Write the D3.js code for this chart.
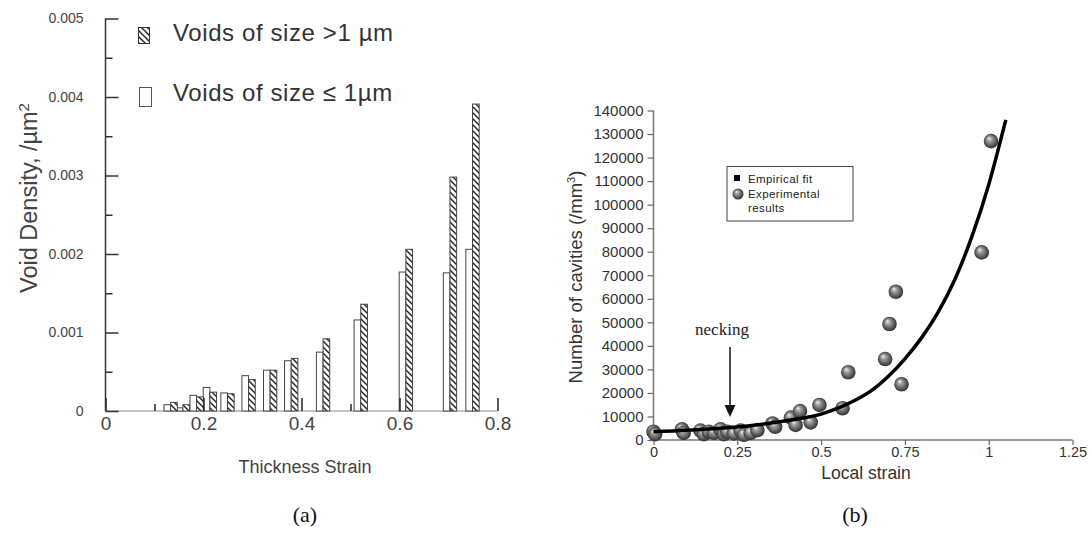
<!DOCTYPE html>
<html><head><meta charset="utf-8">
<script src="https://cdn.jsdelivr.net/npm/d3@7"></script>
<style>
html,body{margin:0;padding:0;background:#fff;}
svg{display:block;}
</style></head>
<body>
<svg id="chart" width="1092" height="538" font-family="Liberation Sans, Arial, sans-serif"></svg>
<script>
// ---------- Panel (a) data ----------
const strainA = [0.133, 0.158, 0.186, 0.213, 0.249, 0.292, 0.336, 0.379, 0.444, 0.521, 0.613, 0.703, 0.749];
const smallVoids = [0.00008, 0.00004, 0.00020, 0.00030, 0.00023, 0.00045, 0.00052, 0.00064, 0.00075, 0.00116, 0.00177, 0.00176, 0.00206];
const largeVoids = [0.00011, 0.00008, 0.00018, 0.00024, 0.00022, 0.00040, 0.00052, 0.00067, 0.00092, 0.00136, 0.00206, 0.00298, 0.00391];
const yTicksA = [0, 0.001, 0.002, 0.003, 0.004, 0.005];
const xTicksA = [0, 0.2, 0.4, 0.6, 0.8];
const legendA = ["Voids of size >1 \u00b5m", "Voids of size \u2264 1\u00b5m"];

// ---------- Panel (b) data ----------
const expStrain = [0, 0.005, 0.085, 0.09, 0.14, 0.15, 0.165, 0.18, 0.2, 0.21, 0.22, 0.24, 0.26, 0.27, 0.29, 0.31, 0.355, 0.363, 0.41, 0.424, 0.437, 0.469, 0.495, 0.564, 0.581, 0.691, 0.704, 0.723, 0.74, 0.979, 1.007];
const expCavities = [3500, 2500, 4500, 3000, 4000, 2500, 3500, 3000, 4500, 2500, 3500, 2800, 4000, 2200, 3000, 4200, 7000, 5600, 9500, 6400, 12300, 7500, 14900, 13500, 28800, 34400, 49300, 63000, 23700, 79700, 127000];
const fitStrain = [0, 0.1, 0.2, 0.3, 0.4, 0.5, 0.55, 0.6, 0.65, 0.7, 0.75, 0.8, 0.85, 0.9, 0.95, 1.0, 1.051];
const fitCavities = [3500, 4100, 5000, 6300, 8300, 11000, 13500, 16800, 21000, 27000, 34500, 43500, 54500, 68500, 86500, 108500, 136000];
const yTicksB = [0, 10000, 20000, 30000, 40000, 50000, 60000, 70000, 80000, 90000, 100000, 110000, 120000, 130000, 140000];
const xTicksB = [0, 0.25, 0.5, 0.75, 1, 1.25];
const legendB = ["Empirical fit", "Experimental", "results"];

const SANS = "Liberation Sans, Arial, sans-serif";
const SERIF = "Liberation Serif, DejaVu Serif, serif";

const svg = d3.select("#chart");
svg.append("rect").attr("width",1092).attr("height",538).attr("fill","#fff");

const defs = svg.append("defs");
const pat = defs.append("pattern").attr("id","hatch").attr("patternUnits","userSpaceOnUse")
  .attr("width",6).attr("height",6);
pat.append("rect").attr("width",6).attr("height",6).attr("fill","#fff");
pat.append("path").attr("d","M-1,-1 L7,7 M-4,2 L1,7 M2,-4 L7,1").attr("stroke","#222").attr("stroke-width",1.4);

const grad = defs.append("radialGradient").attr("id","sphere").attr("cx","50%").attr("cy","50%").attr("r","55%")
  .attr("fx","35%").attr("fy","30%");
grad.append("stop").attr("offset","0%").attr("stop-color","#f4f4f4");
grad.append("stop").attr("offset","30%").attr("stop-color","#a0a0a0");
grad.append("stop").attr("offset","75%").attr("stop-color","#505050");
grad.append("stop").attr("offset","100%").attr("stop-color","#262626");

// ================= Panel (a) =================
const xA = d3.scaleLinear().domain([0,0.8]).range([105.5,497.5]);
const yA = d3.scaleLinear().domain([0,0.005]).range([411,18.5]);
const bw = 0.0136;

const gA = svg.append("g");
gA.append("line").attr("x1",xA(0)).attr("x2",xA(0.8)).attr("y1",yA(0)).attr("y2",yA(0))
  .attr("stroke","#888").attr("stroke-width",1);

const xAxisMinor = d3.axisBottom(xA).tickValues([0.1,0.3,0.5,0.7]).tickSize(-7).tickFormat("");
gA.append("g").attr("transform",`translate(0,${yA(0)})`).call(xAxisMinor)
  .call(g=>g.select(".domain").remove())
  .call(g=>g.selectAll("line").attr("stroke","#222").attr("stroke-width",1.5));

gA.append("g").selectAll("rect").data(strainA).join("rect")
  .attr("x",(d)=>xA(d-bw)).attr("width",xA(bw)-xA(0))
  .attr("y",(d,i)=>yA(smallVoids[i])).attr("height",(d,i)=>yA(0)-yA(smallVoids[i]))
  .attr("fill","#fff").attr("stroke","#444").attr("stroke-width",1);
gA.append("g").selectAll("rect").data(strainA).join("rect")
  .attr("x",(d)=>xA(d)).attr("width",xA(bw)-xA(0))
  .attr("y",(d,i)=>yA(largeVoids[i])).attr("height",(d,i)=>yA(0)-yA(largeVoids[i]))
  .attr("fill","url(#hatch)").attr("stroke","#444").attr("stroke-width",1);

const xAxisA = d3.axisBottom(xA).tickValues(xTicksA).tickSize(-13).tickPadding(6)
  .tickFormat(d=> d===0 ? "0" : d3.format(".1f")(d));
gA.append("g").attr("transform",`translate(0,${yA(0)})`).call(xAxisA)
  .call(g=>g.select(".domain").remove())
  .call(g=>g.selectAll("line").attr("stroke","#222").attr("stroke-width",1.5))
  .call(g=>g.selectAll("text").attr("font-size",19).attr("fill","#444").style("font-family",SANS));

const yAxisMinor = d3.axisLeft(yA).tickValues([0.0005,0.0015,0.0025,0.0035,0.0045]).tickSize(-7).tickFormat("");
gA.append("g").attr("transform",`translate(${xA(0)},0)`).call(yAxisMinor)
  .call(g=>g.select(".domain").remove())
  .call(g=>g.selectAll("line").attr("stroke","#333").attr("stroke-width",1.5));
const yAxisA = d3.axisLeft(yA).tickValues(yTicksA).tickSize(-13).tickPadding(22)
  .tickFormat(d=> d===0 ? "0" : d3.format(".3f")(d));
gA.append("g").attr("transform",`translate(${xA(0)},0)`).call(yAxisA)
  .call(g=>g.select(".domain").attr("d",`M0,${yA(0)}V${yA(0.005)}`).attr("stroke","#333").attr("stroke-width",1.5))
  .call(g=>g.selectAll("line").attr("stroke","#333").attr("stroke-width",1.5))
  .call(g=>g.selectAll("text").attr("font-size",14).attr("fill","#444").style("font-family",SANS));

gA.append("text").attr("x",305).attr("y",473).attr("text-anchor","middle")
  .attr("font-size",18).attr("fill","#444").style("font-family",SANS).text("Thickness Strain");
const yt = gA.append("text").attr("transform","translate(37,198) rotate(-90)").attr("text-anchor","middle")
  .attr("font-size",23.5).attr("fill","#444").style("font-family",SANS);
yt.append("tspan").text("Void Density,  /\u00b5m");
yt.append("tspan").attr("dy",-8).attr("font-size",15).text("2");

const legA = gA.append("g");
legA.append("rect").attr("x",138.5).attr("y",27.5).attr("width",11).attr("height",16)
  .attr("fill","url(#hatch)").attr("stroke","#333").attr("stroke-width",1);
legA.append("rect").attr("x",139.5).attr("y",87.5).attr("width",12).attr("height",19)
  .attr("fill","#fff").attr("stroke","#555").attr("stroke-width",1);
legA.selectAll("text").data(legendA).join("text")
  .attr("x",173).attr("y",(d,i)=> i===0 ? 41 : 101)
  .attr("font-size",24).attr("letter-spacing",0.6).attr("fill","#333").style("font-family",SANS).text(d=>d);

svg.append("text").attr("x",305).attr("y",522).attr("text-anchor","middle")
  .style("font-family",SERIF).attr("font-size",22).attr("fill","#111").text("(a)");

// ================= Panel (b) =================
const xB = d3.scaleLinear().domain([0,1.25]).range([653.5,1072.5]);
const yB = d3.scaleLinear().domain([0,140000]).range([440,110.5]);
const gB = svg.append("g");

const yAxisB = d3.axisLeft(yB).tickValues(yTicksB).tickSize(6).tickPadding(4).tickFormat(d3.format("d"));
gB.append("g").attr("transform",`translate(${xB(0)},0)`).call(yAxisB)
  .call(g=>g.select(".domain").attr("d",`M0,${yB(0)}V${yB(140000)}`).attr("stroke","#777").attr("stroke-width",1.5))
  .call(g=>g.selectAll("line").attr("stroke","#666").attr("stroke-width",1.2))
  .call(g=>g.selectAll("text").attr("font-size",15).attr("fill","#333").style("font-family",SANS));

const xAxisB = d3.axisBottom(xB).tickValues(xTicksB).tickSize(5).tickPadding(2).tickFormat(d=>String(d));
gB.append("g").attr("transform",`translate(0,${yB(0)})`).call(xAxisB)
  .call(g=>g.select(".domain").attr("d",`M${xB(0)},0H${xB(1.25)}`).attr("stroke","#777").attr("stroke-width",1.5))
  .call(g=>g.selectAll("line").attr("stroke","#666").attr("stroke-width",1.2))
  .call(g=>g.selectAll("text").attr("font-size",14.5).attr("fill","#333").style("font-family",SANS));

gB.append("text").attr("x",866).attr("y",479).attr("text-anchor","middle")
  .attr("font-size",17.5).attr("fill","#333").style("font-family",SANS).text("Local strain");
const ytb = gB.append("text").attr("transform","translate(582,277) rotate(-90)").attr("text-anchor","middle")
  .attr("font-size",18.5).attr("fill","#333").style("font-family",SANS);
ytb.append("tspan").text("Number of cavities (/mm");
ytb.append("tspan").attr("dy",-7).attr("font-size",11).text("3");
ytb.append("tspan").attr("dy",7).text(")");

gB.append("g").selectAll("circle").data(expStrain).join("circle")
  .attr("cx",d=>xB(d)).attr("cy",(d,i)=>yB(expCavities[i])).attr("r",7.3)
  .attr("fill","url(#sphere)");

const line = d3.line().x(d=>xB(d[0])).y(d=>yB(d[1])).curve(d3.curveMonotoneX);
gB.append("path").datum(fitStrain.map((s,i)=>[s,fitCavities[i]]))
  .attr("d",line).attr("fill","none").attr("stroke","#000").attr("stroke-width",3.5);

gB.append("text").attr("x",722).attr("y",335).attr("text-anchor","middle")
  .style("font-family",SERIF).attr("font-size",17).attr("fill","#222").text("necking");
gB.append("line").attr("x1",730).attr("x2",730).attr("y1",347).attr("y2",406)
  .attr("stroke","#111").attr("stroke-width",1.5);
gB.append("path").attr("d","M724.5,405 L735.5,405 L730,417 Z").attr("fill","#111");

const legB = gB.append("g");
legB.append("rect").attr("x",727).attr("y",166.5).attr("width",126).attr("height",54.5)
  .attr("fill","#fff").attr("stroke","#444").attr("stroke-width",1);
legB.append("rect").attr("x",734).attr("y",175).attr("width",6).attr("height",6).attr("fill","#000");
legB.append("circle").attr("cx",738).attr("cy",194).attr("r",5.5).attr("fill","url(#sphere)");
legB.selectAll("text").data(legendB).join("text")
  .attr("x",748).attr("y",(d,i)=>[183,198,212][i])
  .attr("font-size",11.5).attr("letter-spacing",0.4).attr("fill","#222").style("font-family",SANS).text(d=>d);

svg.append("text").attr("x",855).attr("y",522).attr("text-anchor","middle")
  .style("font-family",SERIF).attr("font-size",22).attr("fill","#111").text("(b)");
</script>
</body></html>
